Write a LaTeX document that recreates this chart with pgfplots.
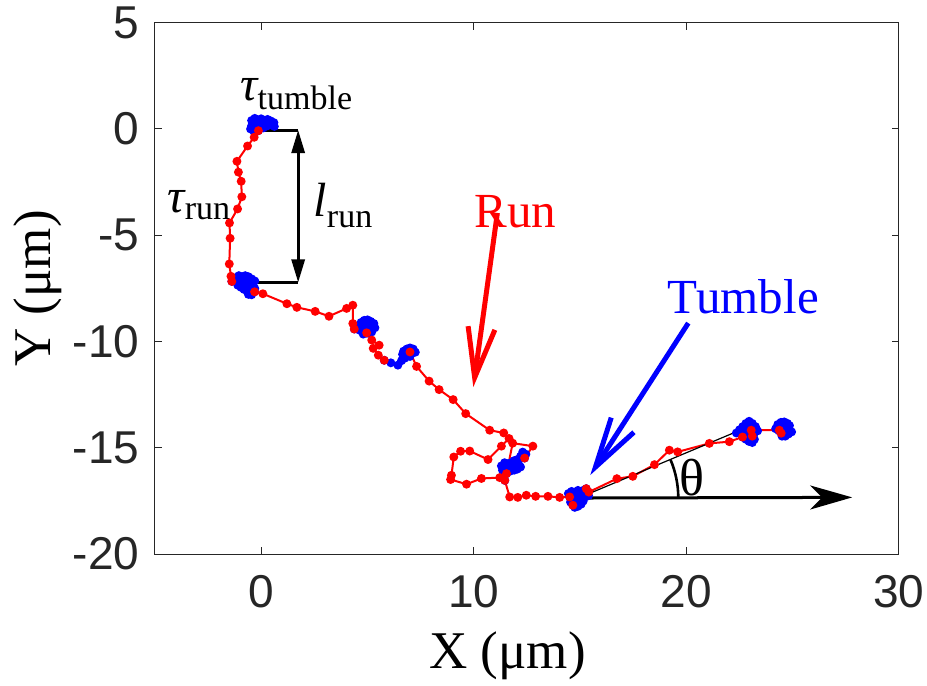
\documentclass[border=0pt]{standalone}
\usepackage{fontspec}
\setmainfont{Liberation Serif}
\newfontfamily\ticksfont{Liberation Sans}
\usepackage{pgfplots}
\pgfplotsset{compat=1.18}
\usetikzlibrary{arrows.meta}
\definecolor{axgray}{RGB}{38,38,38}
\begin{document}
\begin{tikzpicture}
\begin{axis}[
  at={(0,0)}, anchor=south west,
  scale only axis, width=371.9pt, height=265.6pt,
  xmin=-5, xmax=30, ymin=-20, ymax=5,
  xtick={0,10,20,30}, xticklabels={0,10,20,30},
  ytick={-20,-15,-10,-5,0,5}, yticklabels={-20,-15,-10,-5,0,5},
  tick align=inside, major tick length=3.5pt,
  axis line style={axgray, line width=0.5pt},
  every tick/.style={axgray, line width=0.5pt},
  tick label style={font=\ticksfont\fontsize{23}{27}\selectfont, text=axgray},
  xticklabel style={anchor=north, inner sep=0pt, yshift=-10.5pt},
  yticklabel style={anchor=east, inner sep=0pt, xshift=-7.5pt},
  xlabel={X (μm)}, ylabel={Y (μm)},
  xlabel style={at={(axis description cs:0.474,-0.192)}, anchor=center, font=\fontsize{26.5}{30}\selectfont},
  ylabel style={at={(axis description cs:-0.1576,0.5)}, anchor=center, font=\fontsize{26.5}{30}\selectfont},
  clip=false,
  blueT/.style={blue, line width=1pt, mark=*, mark size=1.7pt, mark options={solid}},
  redR/.style={red, line width=1pt, mark=*, mark size=1.7pt, mark options={solid}},
]
% ---- tumble clusters (blue)
\addplot[blueT] coordinates {(-0.45,0.4) (-0.3,0.5) (-0.15,0.42) (0.0,0.48) (0.15,0.4) (0.3,0.45) (0.45,0.38) (0.6,0.3) (0.62,0.12) (0.45,0.2) (0.3,0.15) (0.15,0.25) (0.0,0.2) (-0.15,0.25) (-0.3,0.2) (-0.45,0.15) (-0.5,0.0) (-0.35,-0.1) (-0.2,0.0) (-0.05,0.05) (0.1,0.05) (-0.13,-0.08)};
\addplot[blueT] coordinates {(-1.38,-7.17) (-1.2,-7.0) (-1.05,-6.9) (-0.9,-6.95) (-0.75,-6.9) (-0.6,-6.95) (-0.45,-7.05) (-0.3,-7.15) (-0.4,-7.3) (-0.55,-7.2) (-0.7,-7.15) (-0.85,-7.2) (-1.0,-7.2) (-1.1,-7.35) (-0.95,-7.45) (-0.8,-7.4) (-0.65,-7.35) (-0.5,-7.45) (-0.3,-7.5) (-0.35,-7.65) (-0.5,-7.7) (-0.65,-7.6) (-0.8,-7.55) (-0.6,-7.78) (-0.45,-7.8) (-0.31,-7.66)};
\addplot[blueT] coordinates {(4.38,-9.41) (4.55,-9.25) (4.7,-9.1) (4.85,-9.0) (5.0,-8.98) (5.15,-9.05) (5.3,-9.15) (5.35,-9.35) (5.2,-9.3) (5.05,-9.2) (4.9,-9.2) (4.75,-9.3) (4.6,-9.45) (4.75,-9.5) (4.9,-9.4) (5.1,-9.45) (5.2,-9.55) (5.0,-9.6) (4.8,-9.65) (4.96,-9.59)};
\addplot[blueT] coordinates {(5.79,-10.88) (6.1,-11.0) (6.43,-11.11) (6.6,-10.9) (6.76,-10.78) (6.65,-10.6) (6.7,-10.45) (6.85,-10.35) (7.0,-10.3) (7.15,-10.35) (7.25,-10.5) (7.1,-10.55) (6.95,-10.5) (6.85,-10.65) (7.0,-10.7) (7.0,-10.49)};
\addplot[blueT] coordinates {(12.39,-15.48) (12.45,-15.3) (12.3,-15.2) (12.2,-15.4) (12.05,-15.55) (11.9,-15.6) (11.75,-15.7) (11.6,-15.75) (11.45,-15.7) (11.3,-15.85) (11.35,-16.05) (11.5,-15.95) (11.65,-15.9) (11.8,-15.85) (11.95,-15.8) (12.1,-15.75) (12.2,-15.9) (12.05,-16.0) (11.9,-16.05) (11.7,-16.1) (11.55,-16.2) (11.45,-16.3) (11.46,-16.53)};
\addplot[blueT] coordinates {(14.51,-17.31) (14.45,-17.15) (14.6,-17.05) (14.75,-17.1) (14.9,-17.0) (15.05,-17.05) (15.2,-16.98) (15.35,-17.1) (15.4,-17.25) (15.25,-17.3) (15.1,-17.25) (14.95,-17.25) (14.8,-17.3) (14.65,-17.4) (14.55,-17.55) (14.7,-17.6) (14.85,-17.5) (15.0,-17.45) (15.15,-17.5) (15.05,-17.65) (14.9,-17.75) (14.75,-17.8) (14.66,-17.70) (15.29,-16.92)};
\addplot[blueT] coordinates {(22.35,-14.3) (22.5,-14.15) (22.65,-14.0) (22.8,-13.85) (22.95,-13.75) (23.1,-13.85) (23.25,-14.0) (23.35,-14.2) (23.2,-14.3) (23.05,-14.15) (22.9,-14.05) (22.75,-14.2) (22.6,-14.35) (22.8,-14.4) (22.95,-14.35) (23.1,-14.45) (23.2,-14.6) (23.1,-14.75) (22.95,-14.7) (22.8,-14.6) (22.65,-14.5)};
\addplot[blueT] coordinates {(24.2,-14.1) (24.3,-13.9) (24.45,-13.8) (24.6,-13.78) (24.75,-13.85) (24.85,-13.95) (24.7,-14.05) (24.55,-14.0) (24.4,-14.05) (24.35,-14.2) (24.5,-14.25) (24.65,-14.2) (24.85,-14.15) (24.95,-14.25) (24.8,-14.35) (24.65,-14.45) (24.5,-14.45) (24.46,-14.31)};
% ---- runs (red)
\addplot[redR] coordinates {(-0.13,-0.08) (-0.33,-0.39) (-0.64,-0.80) (-1.14,-1.52) (-1.07,-2.03) (-0.94,-2.46) (-0.91,-3.19) (-1.11,-3.76) (-1.49,-4.42) (-1.46,-5.14) (-1.50,-6.35) (-1.42,-6.93) (-1.38,-7.17)};
\addplot[redR] coordinates {(-0.31,-7.66) (0.08,-7.75) (1.21,-8.22) (1.68,-8.39) (2.54,-8.58) (3.19,-8.81) (4.02,-8.44) (4.31,-8.29) (4.31,-9.15) (4.38,-9.41)};
\addplot[redR] coordinates {(4.96,-9.59) (5.20,-9.93) (5.55,-10.17) (5.27,-10.32) (5.51,-10.64) (5.79,-10.88)};
\addplot[redR] coordinates {(7.0,-10.49) (7.31,-11.17) (7.90,-11.86) (8.37,-12.26) (9.03,-12.73) (9.62,-13.39) (10.75,-14.17) (11.41,-14.30) (11.66,-14.56) (11.30,-14.92) (10.67,-15.55) (9.81,-15.15) (9.38,-15.16) (9.06,-15.43) (8.95,-16.29) (8.91,-16.49) (9.66,-16.71) (10.36,-16.44) (11.22,-16.40) (11.54,-16.21) (11.83,-14.78) (12.78,-14.92) (12.39,-15.48)};
\addplot[redR] coordinates {(11.46,-16.53) (11.69,-17.31) (12.07,-17.33) (12.47,-17.23) (12.91,-17.28) (13.49,-17.28) (14.04,-17.33) (14.51,-17.31) (14.66,-17.70)};
\addplot[redR] coordinates {(15.29,-16.92) (15.41,-17.08) (16.73,-16.45) (17.48,-16.34) (18.50,-15.79) (19.20,-15.11) (19.59,-15.19) (21.08,-14.79) (22.02,-14.71) (22.64,-14.49) (23.10,-14.45) (23.05,-14.17) (24.37,-14.17) (24.46,-14.31)};
% ---- annotations
\draw[line width=1.5pt] (axis cs:-0.13,-0.05) -- (axis cs:1.74,-0.05);
\draw[line width=1.5pt] (axis cs:-1.38,-7.22) -- (axis cs:1.74,-7.22);
\draw[line width=1.5pt, {Triangle[length=11.5pt,width=6.5pt]}-{Triangle[length=11.5pt,width=6.5pt]}] (axis cs:1.74,-0.05) -- (axis cs:1.74,-7.22);
\draw[red, line width=2.5pt, -{Straight Barb[length=25pt,width=13.5pt]}] (axis cs:11.11,-3.95) -- (axis cs:9.98,-12.14);
\draw[blue, line width=2.5pt, -{Straight Barb[length=25pt,width=13.5pt]}] (axis cs:20.09,-9.13) -- (axis cs:15.48,-16.28);
\draw[line width=0.6pt] (axis cs:15.0,-17.33) -- (axis cs:22.5,-14.18);
\draw[line width=1.5pt, -{Stealth[length=21pt,width=12pt,inset=6pt]}] (axis cs:15.25,-17.36) -- (axis cs:27.8,-17.33);
\draw[line width=1.3pt] (axis cs:19.62,-17.36) arc[start angle=0,end angle=23,radius=49pt];
\node[red, font=\fontsize{24.5}{28}\selectfont] at (axis cs:11.95,-3.9) {Run};
\node[blue, font=\fontsize{24.5}{28}\selectfont] at (axis cs:22.68,-7.9) {Tumble};
\node[font=\fontsize{26}{30}\selectfont] at (axis cs:20.24,-16.42) {θ};
\node[anchor=base west, inner sep=0pt] at (axis cs:-0.99,1.32) {{\fontsize{24}{28}\selectfont\itshape τ}\raisebox{-4.5pt}{\fontsize{17}{20}\selectfont tumble}};
\node[anchor=base west, inner sep=0pt] at (axis cs:-4.42,-3.91) {{\fontsize{24}{28}\selectfont\itshape τ}\raisebox{-3.5pt}{\fontsize{17}{20}\selectfont run}};
\node[anchor=base west, inner sep=0pt] at (axis cs:2.45,-4.14) {{\fontsize{24}{28}\selectfont\itshape l}\raisebox{-5pt}{\fontsize{17}{20}\selectfont run}};
\end{axis}
\pgfresetboundingbox
\path (-77.4pt,-65.5pt) rectangle (385.9pt,276.95pt);
\end{tikzpicture}
\end{document}
